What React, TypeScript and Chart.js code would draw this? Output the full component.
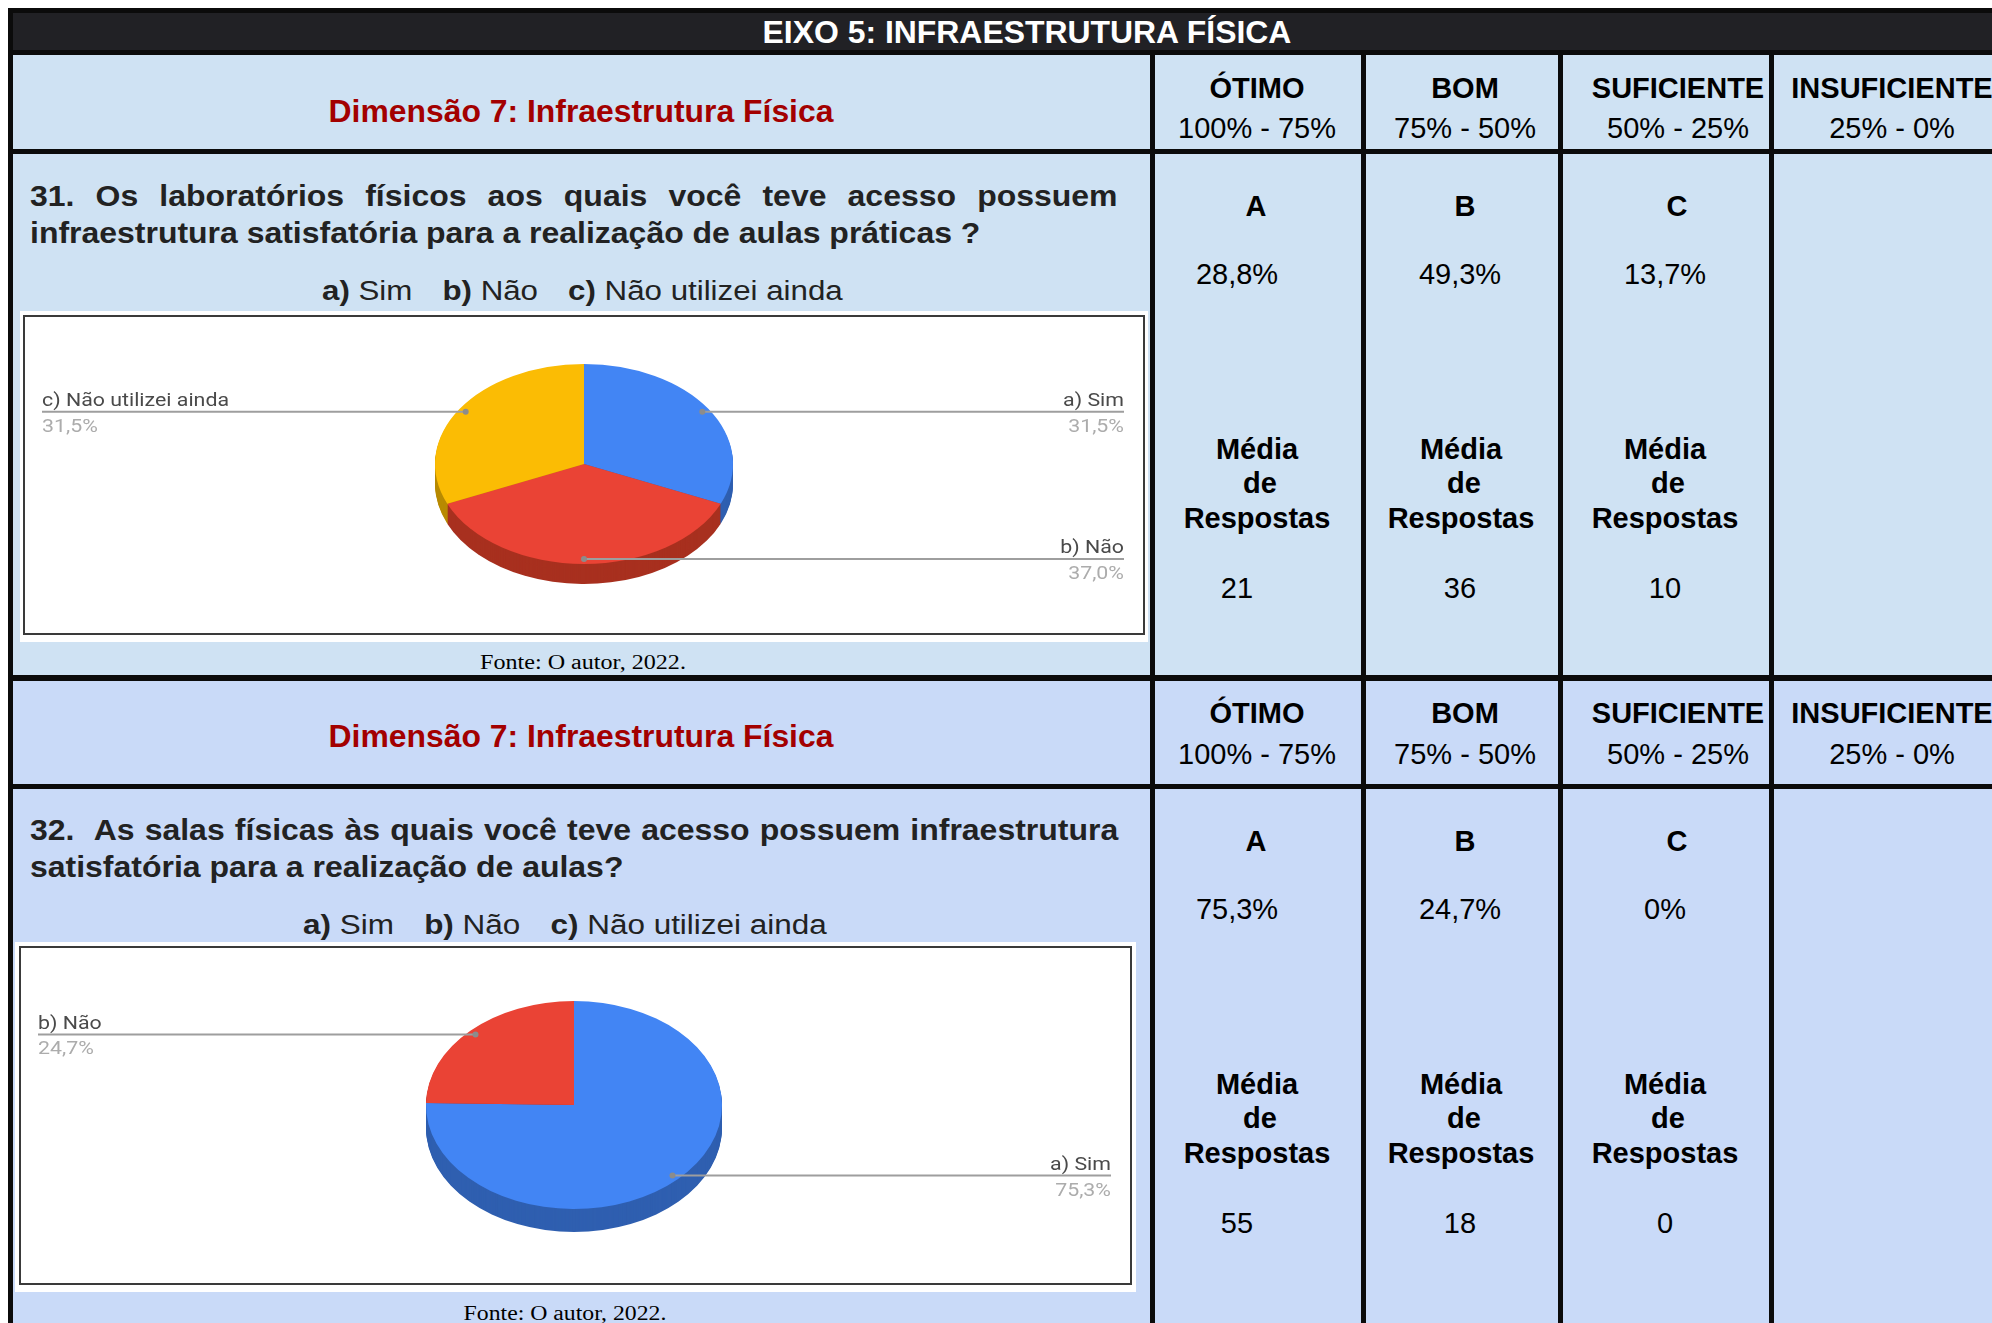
import React, { useEffect, useLayoutEffect, useRef } from 'react';
import { Chart, registerables } from 'chart.js';

Chart.register(...registerables);

// ---------- data ----------
const TITLE = 'EIXO 5: INFRAESTRUTURA FÍSICA';
const DIMENSION = 'Dimensão 7: Infraestrutura Física';
const GRADES = ['ÓTIMO', 'BOM', 'SUFICIENTE', 'INSUFICIENTE'];
const RANGES = ['100% - 75%', '75% - 50%', '50% - 25%', '25% - 0%'];
const LETTERS = ['A', 'B', 'C'];
const Q31_PCTS = ['28,8%', '49,3%', '13,7%'];
const Q31_COUNTS = ['21', '36', '10'];
const Q32_PCTS = ['75,3%', '24,7%', '0%'];
const Q32_COUNTS = ['55', '18', '0'];
const Q31_LINE1 = '31. Os laboratórios físicos aos quais você teve acesso possuem';
const Q31_LINE2 = 'infraestrutura satisfatória para a realização de aulas práticas ?';
const Q32_LINE1 = '32.\u00a0 As salas físicas às quais você teve acesso possuem infraestrutura';
const Q32_LINE2 = 'satisfatória para a realização de aulas?';
const OPTION_KEYS = ['a)', 'b)', 'c)'];
const OPTION_TEXTS = ['Sim', 'Não', 'Não utilizei ainda'];
const SOURCE = 'Fonte: O autor, 2022.';

const PIE_LABELS = ['a) Sim', 'b) Não', 'c) Não utilizei ainda'];
const PIE1_VALUES = [31.5, 37.0, 31.5];
const PIE2_VALUES = [75.3, 24.7, 0];
const SLICE_COLORS = ['#4285f4', '#ea4335', '#fbbc04'];
const SIDE_COLORS = ['#2f5fb0', '#a8301f', '#b88a02'];

const FONT = '"Liberation Sans", Arial, Helvetica, sans-serif';
const BG1 = '#cfe2f3';
const BG2 = '#c9daf8';

// ---------- pie 3D plugin ----------
function makePie3d(cfg: any) {
  return {
    id: 'pie3d',
    beforeDatasetsDraw(chart: any) {
      const ctx = chart.ctx;
      const meta = chart.getDatasetMeta(0);
      const arcs = meta.data;
      ctx.save();
      if (!arcs.length) return;
      const cx = arcs[0].x;
      const cy = arcs[0].y;
      const k = cfg.tilt;
      ctx.translate(cx, cy);
      ctx.scale(1, k);
      ctx.translate(-cx, -cy);
      for (let d = cfg.depth; d > 0; d -= 1) {
        arcs.forEach((arc: any, i: number) => {
          if (!arc.circumference) return;
          ctx.beginPath();
          ctx.moveTo(arc.x, arc.y + d / k);
          ctx.arc(arc.x, arc.y + d / k, arc.outerRadius, arc.startAngle, arc.endAngle);
          ctx.closePath();
          ctx.fillStyle = cfg.sideColors[i];
          ctx.fill();
        });
      }
    },
    afterDatasetsDraw(chart: any) {
      chart.ctx.restore();
    },
    afterDraw(chart: any) {
      const ctx = chart.ctx;
      const meta = chart.getDatasetMeta(0);
      const data = chart.data.datasets[0].data as number[];
      const labels = chart.data.labels as string[];
      const k = cfg.tilt;
      meta.data.forEach((arc: any, i: number) => {
        const v = data[i];
        if (!v) return;
        const mid = (arc.startAngle + arc.endAngle) / 2;
        const px = arc.x + Math.cos(mid) * arc.outerRadius * 0.95;
        const py = arc.y + Math.sin(mid) * arc.outerRadius * 0.95 * k;
        const right = Math.cos(mid) > -1e-6;
        const xe = right ? chart.width - cfg.edgeRight : cfg.edgeLeft;
        ctx.save();
        ctx.strokeStyle = '#9e9e9e';
        ctx.lineWidth = 2;
        ctx.beginPath();
        ctx.moveTo(px, py);
        ctx.lineTo(xe, py);
        ctx.stroke();
        ctx.fillStyle = '#8c8c8c';
        ctx.beginPath();
        ctx.arc(px, py, 3, 0, Math.PI * 2);
        ctx.fill();
        ctx.translate(xe, py);
        ctx.scale(cfg.stretch, 1);
        ctx.textAlign = right ? 'right' : 'left';
        ctx.textBaseline = 'alphabetic';
        ctx.font = '17.5px Roboto, "Noto Sans", sans-serif';
        ctx.fillStyle = '#4a4a4a';
        ctx.fillText(labels[i], 0, -5.5);
        ctx.fillStyle = '#acacac';
        ctx.fillText(v.toFixed(1).replace('.', ',') + '%', 0, 20);
        ctx.restore();
      });
    },
  };
}

function Pie3D(props: any) {
  const { left, top, width, height, values, padding, radius, tilt, depth, edgeRight } = props;
  const ref = useRef<HTMLCanvasElement>(null);
  useEffect(() => {
    if (!ref.current) return;
    const chart = new Chart(ref.current, {
      type: 'pie',
      data: {
        labels: PIE_LABELS,
        datasets: [
          {
            data: values,
            backgroundColor: SLICE_COLORS,
            borderWidth: 0,
            hoverOffset: 0,
            clip: false,
            radius,
          } as any,
        ],
      },
      options: {
        responsive: false,
        animation: false,
        devicePixelRatio: 1,
        events: [],
        radius,
        layout: { padding },
        plugins: { legend: { display: false }, tooltip: { enabled: false } },
      } as any,
      plugins: [
        makePie3d({
          tilt,
          depth,
          sideColors: SIDE_COLORS,
          edgeLeft: 22,
          edgeRight,
          stretch: 1.22,
        }),
      ],
    });
    return () => chart.destroy();
  }, []);
  return (
    <canvas
      ref={ref}
      width={width}
      height={height}
      style={{ position: 'absolute', left, top, width, height }}
    />
  );
}

// ---------- text helpers ----------
function T(props: any) {
  const { x, y, w, size, bold, color = '#000', family = FONT, children } = props;
  const ref = useRef<HTMLDivElement>(null);
  useLayoutEffect(() => {
    const run = () => {
      const el = ref.current;
      if (!el) return;
      let s = 1;
      if (w) s = w / el.offsetWidth;
      el.style.transform = `translate(-50%,-50%) scaleX(${s})`;
    };
    run();
    (document as any).fonts?.ready.then(run);
  }, [w]);
  return (
    <div
      ref={ref}
      style={{
        position: 'absolute',
        left: x,
        top: y,
        transform: 'translate(-50%,-50%)',
        whiteSpace: 'nowrap',
        fontSize: size,
        fontWeight: bold ? 700 : 400,
        color,
        fontFamily: family,
        lineHeight: 1,
      }}
    >
      {children}
    </div>
  );
}

function L(props: any) {
  const { x, top, w, size, color = '#222', children } = props;
  const ref = useRef<HTMLDivElement>(null);
  useLayoutEffect(() => {
    const run = () => {
      const el = ref.current;
      if (!el) return;
      el.style.transform = `scaleX(${w / el.offsetWidth})`;
    };
    run();
    (document as any).fonts?.ready.then(run);
  }, [w]);
  return (
    <div
      ref={ref}
      style={{
        position: 'absolute',
        left: x,
        top,
        transformOrigin: '0 0',
        whiteSpace: 'nowrap',
        fontSize: size,
        color,
        fontFamily: FONT,
        lineHeight: 1,
      }}
    >
      {children}
    </div>
  );
}

function QBlock(props: any) {
  const { left, top, width, line1, line2, line2Width } = props;
  const cont = useRef<HTMLDivElement>(null);
  const l1 = useRef<HTMLSpanElement>(null);
  const l2 = useRef<HTMLSpanElement>(null);
  useLayoutEffect(() => {
    const run = () => {
      if (!cont.current || !l1.current || !l2.current) return;
      const s = line2Width / l2.current.offsetWidth;
      l1.current.style.wordSpacing = '0px';
      const n1 = l1.current.offsetWidth;
      const spaces = line1.split(/[ \u00a0]/).length - 1;
      const ws = (width / s - n1) / spaces;
      l1.current.style.wordSpacing = ws + 'px';
      cont.current.style.transform = `scaleX(${s})`;
    };
    run();
    (document as any).fonts?.ready.then(run);
  }, []);
  return (
    <div
      ref={cont}
      style={{
        position: 'absolute',
        left,
        top,
        transformOrigin: '0 0',
        fontSize: 29,
        fontWeight: 700,
        lineHeight: '37px',
        whiteSpace: 'nowrap',
        color: '#222222',
        fontFamily: FONT,
      }}
    >
      <div>
        <span ref={l1} style={{ display: 'inline-block' }}>{line1}</span>
      </div>
      <div>
        <span ref={l2} style={{ display: 'inline-block' }}>{line2}</span>
      </div>
    </div>
  );
}

function Options(props: any) {
  return (
    <L x={props.x} top={props.top} w={props.w} size={27}>
      {OPTION_KEYS.map((k, i) => (
        <span key={k} style={{ marginRight: i < 2 ? 26 : 0 }}>
          <b>{k}</b> {OPTION_TEXTS[i]}
        </span>
      ))}
    </L>
  );
}

const COLS = [
  { l: 13, w: 1137 },
  { l: 1155, w: 206 },
  { l: 1366, w: 192 },
  { l: 1563, w: 206 },
  { l: 1774, w: 240 },
];
const ROWS = [
  { t: 55, h: 94, bg: BG1 },
  { t: 154, h: 521, bg: BG1 },
  { t: 681, h: 103, bg: BG2 },
  { t: 789, h: 560, bg: BG2 },
];

const GRADE_X = [1257, 1465, 1678, 1892];
const LETTER_X = [1256, 1465, 1677];
const PCT_X = [1237, 1460, 1665];
const MEDIA_X = [1257, 1461, 1665];

function Header(props: any) {
  const { dy, gy, ry } = props;
  return (
    <>
      <T x={580.6} y={dy} size={32} bold color="#a30000" w={505}>{DIMENSION}</T>
      {GRADES.map((g, i) => (
        <T key={g} x={GRADE_X[i]} y={gy} size={29} bold>{g}</T>
      ))}
      {RANGES.map((r, i) => (
        <T key={r} x={GRADE_X[i]} y={ry} size={29}>{r}</T>
      ))}
    </>
  );
}

function Values(props: any) {
  const { base, pcts, counts } = props;
  return (
    <>
      {LETTERS.map((l, i) => (
        <T key={l} x={LETTER_X[i]} y={base} size={29} bold>{l}</T>
      ))}
      {pcts.map((p: string, i: number) => (
        <T key={'p' + i} x={PCT_X[i]} y={base + 68} size={29}>{p}</T>
      ))}
      {MEDIA_X.map((x, i) => (
        <React.Fragment key={'m' + i}>
          <T x={x} y={base + 243} size={29} bold>Média</T>
          <T x={x + 3} y={base + 277} size={29} bold>de</T>
          <T x={x} y={base + 312} size={29} bold>Respostas</T>
        </React.Fragment>
      ))}
      {counts.map((c: string, i: number) => (
        <T key={'c' + i} x={PCT_X[i]} y={base + 382} size={29}>{c}</T>
      ))}
    </>
  );
}

function ChartBox(props: any) {
  const { l, t, w, h, fl, ft, fw, fh } = props;
  return (
    <>
      <div style={{ position: 'absolute', left: l, top: t, width: w, height: h, background: '#ffffff' }} />
      <div
        style={{
          position: 'absolute',
          left: fl,
          top: ft,
          width: fw,
          height: fh,
          boxSizing: 'border-box',
          border: '2px solid #3a3a3a',
        }}
      />
    </>
  );
}

export default function App() {
  return (
    <div
      style={{
        position: 'fixed',
        left: 0,
        top: 0,
        width: 1992,
        height: 1323,
        overflow: 'hidden',
        background: '#ffffff',
        fontFamily: FONT,
      }}
    >
      <div style={{ position: 'absolute', left: 8, top: 8, width: 2000, height: 1400, background: '#0b0b0b' }} />
      <div style={{ position: 'absolute', left: 13, top: 13, width: 1990, height: 37, background: '#212125' }} />
      {ROWS.map((r, ri) =>
        COLS.map((c, ci) => (
          <div
            key={ri + '-' + ci}
            style={{ position: 'absolute', left: c.l, top: r.t, width: c.w, height: r.h, background: r.bg }}
          />
        ))
      )}
      <T x={1026.5} y={31.7} size={31} bold color="#ffffff" w={529}>{TITLE}</T>

      <Header dy={110.5} gy={88} ry={128} />
      <Header dy={735.6} gy={713} ry={754} />

      <QBlock left={30} top={177.5} width={1088} line1={Q31_LINE1} line2={Q31_LINE2} line2Width={950} />
      <Options x={321.7} top={277.8} w={521} />
      <ChartBox l={20} t={311} w={1128} h={331} fl={23} ft={315} fw={1122} fh={320} />
      <Pie3D
        left={20}
        top={311}
        width={1128}
        height={331}
        values={PIE1_VALUES}
        padding={{ bottom: 25 }}
        radius={149}
        tilt={0.671}
        depth={20}
        edgeRight={24}
      />
      <T x={583} y={662} size={20} family='"Liberation Serif", "Times New Roman", serif' w={206}>{SOURCE}</T>
      <Values base={206} pcts={Q31_PCTS} counts={Q31_COUNTS} />

      <QBlock left={30} top={811.5} width={1088} line1={Q32_LINE1} line2={Q32_LINE2} line2Width={593} />
      <Options x={303} top={911.7} w={524} />
      <ChartBox l={15} t={942} w={1121} h={350} fl={19} ft={946} fw={1113} fh={339} />
      <Pie3D
        left={16}
        top={943}
        width={1120}
        height={349}
        values={PIE2_VALUES}
        padding={{ bottom: 25, right: 4 }}
        radius={148}
        tilt={0.703}
        depth={23}
        edgeRight={25}
      />
      <T x={565} y={1313} size={20} family='"Liberation Serif", "Times New Roman", serif' w={203}>{SOURCE}</T>
      <Values base={841} pcts={Q32_PCTS} counts={Q32_COUNTS} />
    </div>
  );
}
